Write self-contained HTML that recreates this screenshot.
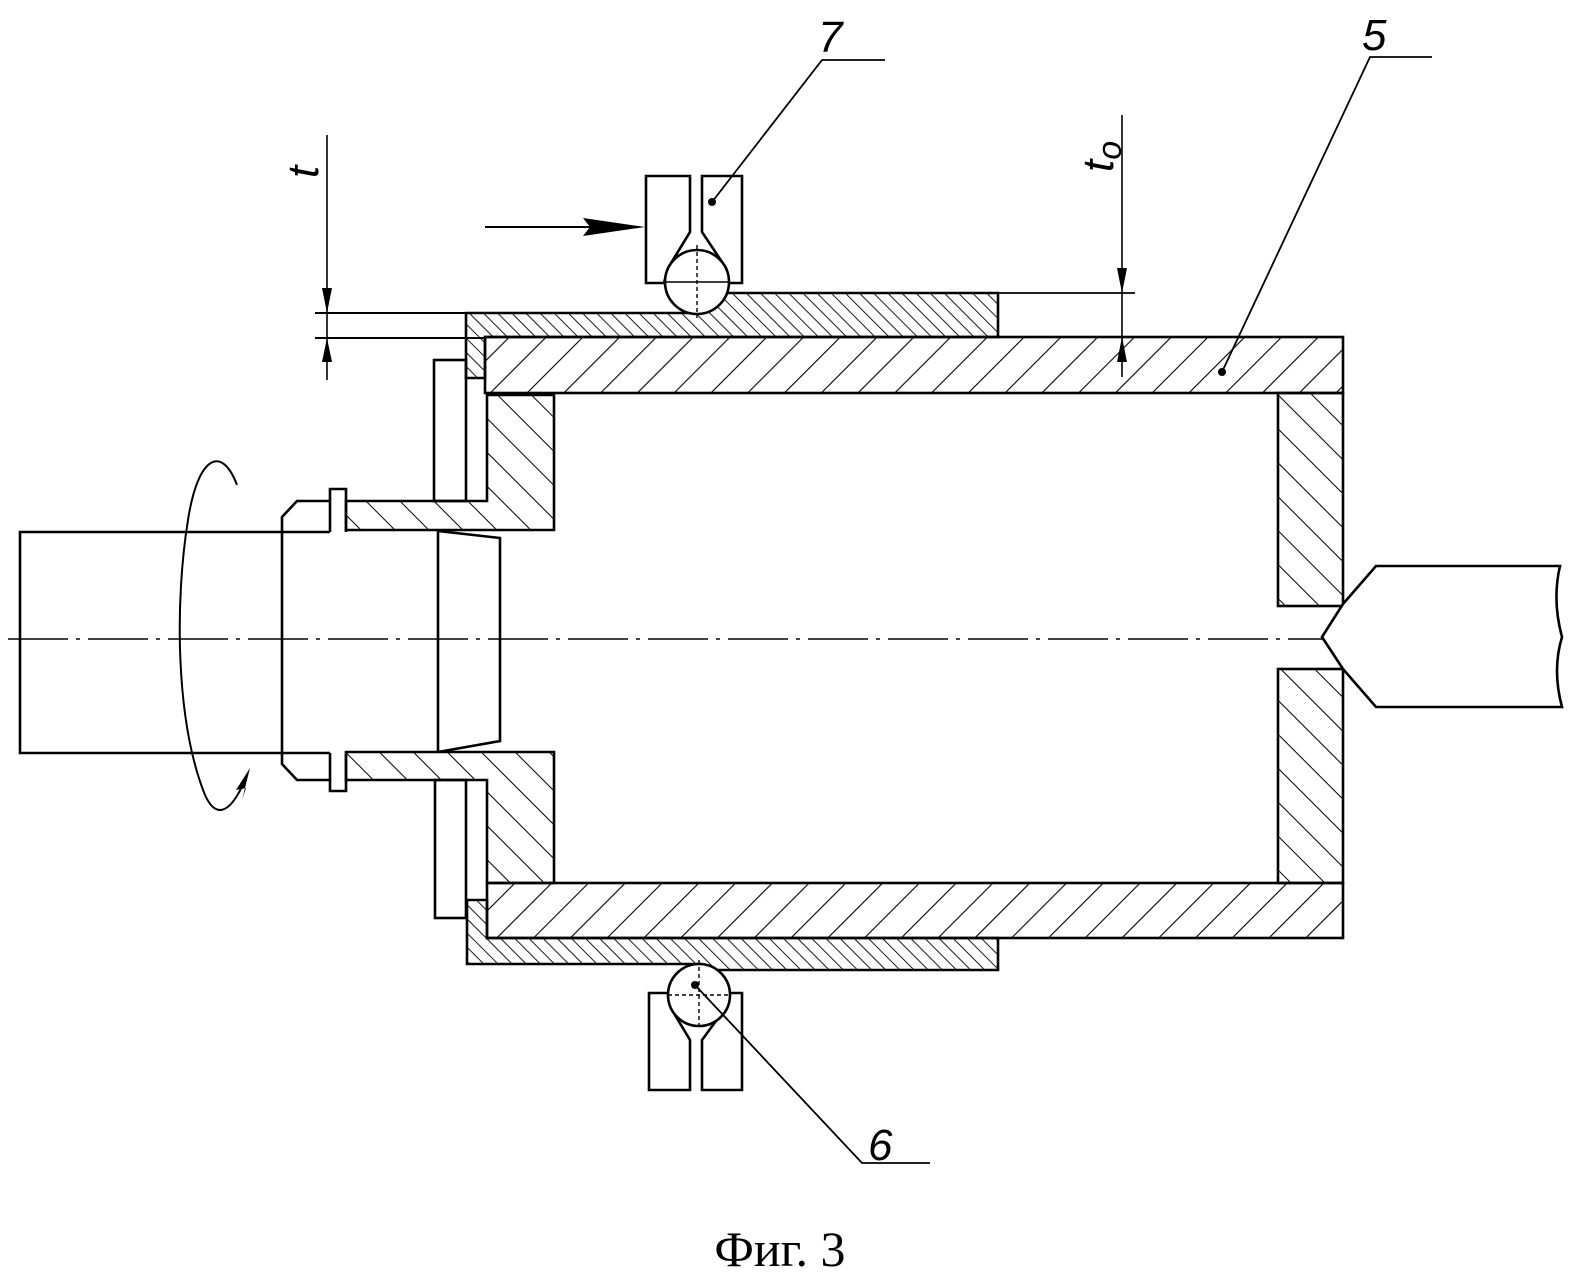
<!DOCTYPE html>
<html><head><meta charset="utf-8"><style>
html,body{margin:0;padding:0;background:#fff;}
svg{display:block}
</style></head><body>
<svg width="1579" height="1285" viewBox="0 0 1579 1285" xmlns="http://www.w3.org/2000/svg">
<defs>
<pattern id="hs" width="26" height="26" patternUnits="userSpaceOnUse" patternTransform="rotate(45)"><line x1="0" y1="0" x2="0" y2="26" stroke="#000" stroke-width="2.2"/></pattern>
<pattern id="hb" width="24" height="24" patternUnits="userSpaceOnUse" patternTransform="rotate(-45)"><line x1="0" y1="0" x2="0" y2="24" stroke="#000" stroke-width="2"/></pattern>
<pattern id="hf" width="10" height="10" patternUnits="userSpaceOnUse" patternTransform="rotate(-45)"><line x1="0" y1="0" x2="0" y2="10" stroke="#000" stroke-width="1.8"/></pattern>
</defs>
<g fill="none" stroke="#000" stroke-width="2.6" stroke-linejoin="miter">
<line x1="8" y1="639" x2="1560" y2="639" stroke-width="1.4" stroke-dasharray="60,8,4,8"/>
<path d="M330,532 H20 V753 H330"/>
<path d="M330,501 H297 L282,517 V764 L297,780 H330"/>
<path d="M330,532 V489 H346 V532 M330,753 V791 H346 V753"/>
<path d="M438,531 L500,538 V741 L438,752 M438,530 V752"/>
<path d="M346,501 H487 V395 H554 V530 H346 Z" fill="url(#hb)"/>
<path d="M346,752 H554 V883 H487 V780 H346 Z" fill="url(#hb)"/>
<rect x="434" y="360" width="32" height="141"/>
<rect x="435" y="780" width="31" height="138"/>
<rect x="485" y="337" width="858" height="56" fill="url(#hs)"/>
<rect x="487" y="883" width="856" height="55" fill="url(#hs)"/>
<rect x="1278" y="393" width="65" height="213" fill="url(#hb)"/>
<rect x="1278" y="669" width="65" height="214" fill="url(#hb)"/>
<path d="M1343,604 L1322,637 L1343,669 M1343,604 L1376,566 H1560 Q1552,600 1562,637 Q1552,670 1562,707 H1376 L1343,669" fill="#fff"/>
<path d="M466,313 H697 A32,32 0 0 0 727,293 H998 V337 H485 V378 H466 Z" fill="url(#hf)"/>
<path d="M467,900 H487 V938 H998 V970 H717 A31,31 0 0 0 699,964 H467 Z" fill="url(#hf)"/>
<path d="M646,176 H690 V232 L668,268 L664,283 H646 Z"/>
<path d="M702,176 H742 V283 H729 L726,268 L702,232 Z"/>
<circle cx="697" cy="282" r="32" fill="#fff"/>
<line x1="665" y1="282" x2="729" y2="282" stroke-width="1.6"/>
<line x1="697" y1="245" x2="697" y2="318" stroke-width="1.4" stroke-dasharray="4,3"/>
<path d="M649,993 H668 L672,1010 L690,1040 V1090 H649 Z"/>
<path d="M702,1090 V1040 L724,1010 L728,993 H742 V1090 Z"/>
<circle cx="699" cy="995" r="31" fill="#fff"/>
<line x1="668" y1="995" x2="730" y2="995" stroke-width="1.4" stroke-dasharray="4,3"/>
<line x1="699" y1="960" x2="699" y2="1030" stroke-width="1.4" stroke-dasharray="4,3"/>
<line x1="485" y1="227" x2="600" y2="227" stroke-width="2"/>
<path d="M712,202 L822,60 H885" stroke-width="1.8"/>
<path d="M1222,372 L1370,57 H1432" stroke-width="1.8"/>
<path d="M695,985 L862,1163 H930" stroke-width="1.8"/>
<line x1="327" y1="135" x2="327" y2="380" stroke-width="1.6"/>
<line x1="315" y1="313" x2="466" y2="313" stroke-width="2"/>
<line x1="315" y1="338" x2="485" y2="338" stroke-width="2"/>
<line x1="1122" y1="115" x2="1122" y2="377" stroke-width="1.6"/>
<line x1="998" y1="293" x2="1135" y2="293" stroke-width="1.8"/>
<path d="M237,485 C222,445 198,455 188,520 C175,600 175,720 205,795 C214,815 228,820 246,778" stroke-width="2"/>
</g>
<g fill="#000">
<polygon points="645,227 583,218 590,227 583,236"/>
<polygon points="327,313 322,288 332,288"/>
<polygon points="327,338 322,362 332,362"/>
<polygon points="1122,293 1117,268 1127,268"/>
<polygon points="1122,337 1117,362 1127,362"/>
<polygon points="250,768 236,790 246,788 242,800"/>
<circle cx="712" cy="202" r="4"/>
<circle cx="1222" cy="372" r="4"/>
<circle cx="695" cy="985" r="4"/>
</g>
<g font-family="Liberation Sans, sans-serif" font-style="italic" font-size="44" fill="#000">
<text x="818" y="52">7</text>
<text x="1362" y="50">5</text>
<text x="868" y="1160">6</text>
<text transform="translate(318,178) rotate(-90)">t</text>
<text transform="translate(1113,172) rotate(-90)">t<tspan font-size="34" dy="8">o</tspan></text>
</g>
<text x="780" y="1266" text-anchor="middle" font-family="Liberation Serif, serif" font-size="50" fill="#000">Фиг. 3</text>
</svg>
</body></html>
